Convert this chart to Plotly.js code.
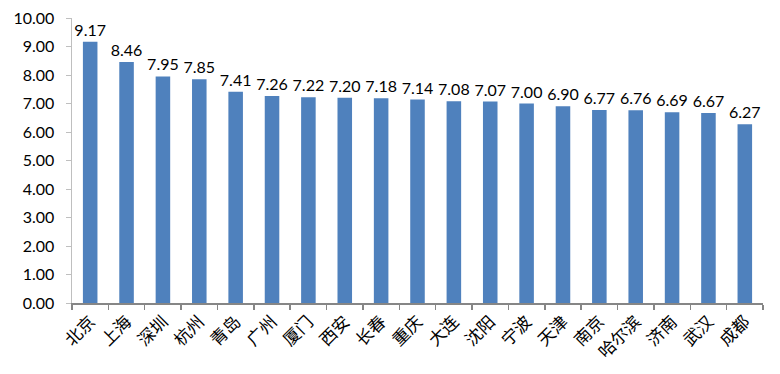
<!DOCTYPE html>
<html><head><meta charset="utf-8">
<script src="https://cdn.plot.ly/plotly-3.0.1.min.js"></script>
<style>html,body{margin:0;padding:0;background:#fff}</style>
</head><body>
<div id="chart" style="width:780px;height:374px"></div>
<script>
const cities = ["北京","上海","深圳","杭州","青岛","广州","厦门","西安","长春","重庆","大连","沈阳","宁波","天津","南京","哈尔滨","济南","武汉","成都"];
const values = [9.17,8.46,7.95,7.85,7.41,7.26,7.22,7.20,7.18,7.14,7.08,7.07,7.00,6.90,6.77,6.76,6.69,6.67,6.27];

Plotly.newPlot('chart', [{
  type: 'bar',
  x: cities,
  y: values,
  marker: {color: '#4F81BD'},
  text: values.map(v => v.toFixed(2)),
  textposition: 'outside',
  constraintext: 'none',
  textfont: {family: 'Lato, "Open Sans", sans-serif', size: 16, color: '#000'},
  cliponaxis: false,
  hoverinfo: 'none'
}], {
  width: 780, height: 374,
  margin: {l: 72, r: 17, t: 18, b: 71},
  paper_bgcolor: '#fff', plot_bgcolor: '#fff',
  bargap: 0.6,
  showlegend: false,
  xaxis: {
    type: 'category',
    tickson: 'boundaries',
    ticks: 'outside', ticklen: 5, tickcolor: '#868686', tickwidth: 1.5,
    showline: true, linecolor: '#868686', linewidth: 2,
    tickangle: -45,
    tickfont: {family: '"Noto Sans CJK SC", sans-serif', size: 17, color: '#000'},
    showgrid: false, zeroline: false
  },
  yaxis: {
    range: [0, 10], dtick: 1, tickformat: '.2f',
    ticks: 'outside', ticklen: 5, tickcolor: '#BFBFBF',
    ticklabelstandoff: 8,
    showline: true, linecolor: '#BFBFBF', linewidth: 1.5,
    tickfont: {family: 'Lato, "Open Sans", sans-serif', size: 16, color: '#000'},
    showgrid: false, zeroline: false
  }
}, {displayModeBar: false, staticPlot: true});
</script>
</body></html>
